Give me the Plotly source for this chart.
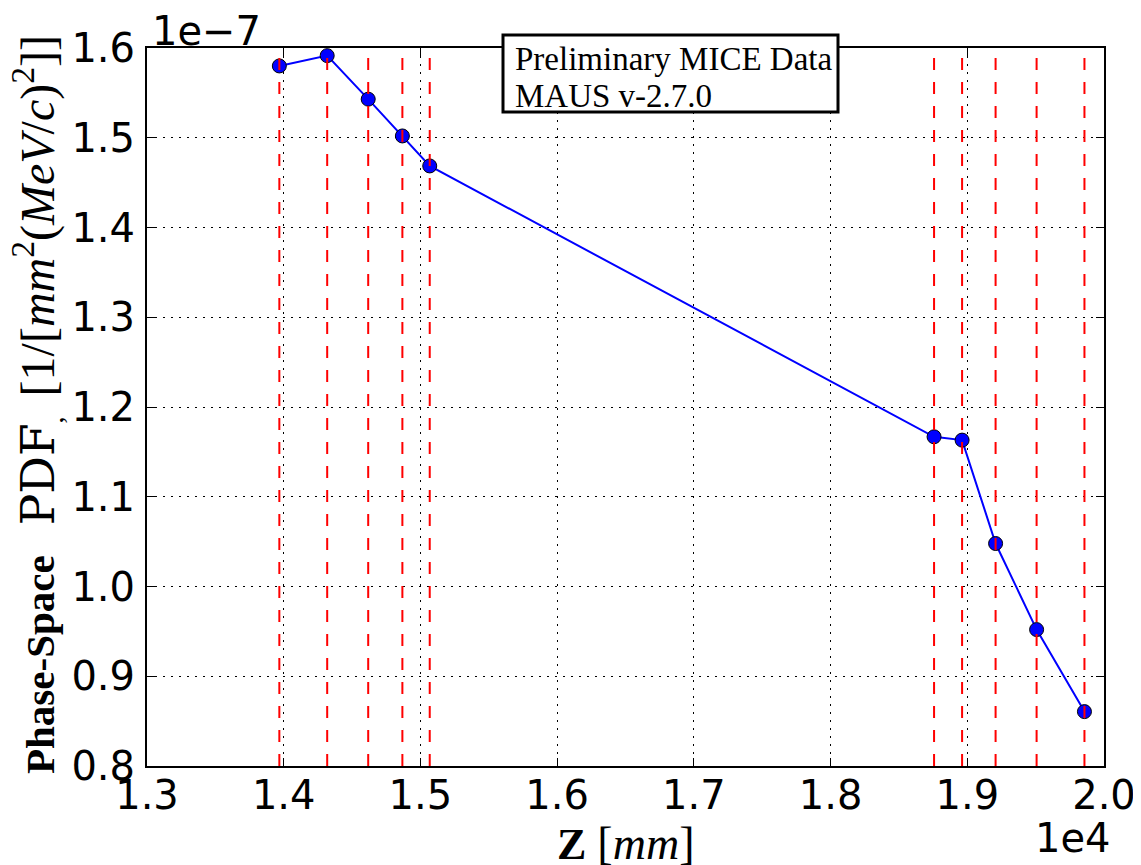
import plotly.graph_objects as go

# Data (z in mm, phase-space PDF in 1/[mm^2 (MeV/c)^2])
z_mm = [13968, 14318, 14618, 14868, 15068, 18757, 18962, 19207, 19507, 19857]
pdf = [1.580e-7, 1.5915e-7, 1.543e-7, 1.502e-7, 1.4686e-7,
       1.1668e-7, 1.1631e-7, 1.0479e-7, 0.952e-7, 0.8606e-7]
station_z = [13968, 14318, 14618, 14868, 15068, 18757, 18962, 19207, 19507, 19857]

x_tick_vals = [13000, 14000, 15000, 16000, 17000, 18000, 19000, 20000]
x_tick_text = ["1.3", "1.4", "1.5", "1.6", "1.7", "1.8", "1.9", "2.0"]
y_tick_vals = [0.8e-7, 0.9e-7, 1.0e-7, 1.1e-7, 1.2e-7, 1.3e-7, 1.4e-7, 1.5e-7, 1.6e-7]
y_tick_text = ["0.8", "0.9", "1.0", "1.1", "1.2", "1.3", "1.4", "1.5", "1.6"]

OFF = 8  # default page body margin
W, H = 1141 - OFF, 865 - OFF
L, T = 147 - OFF, 48 - OFF
R = W - (1104 - OFF)
B = H - (766 - OFF)
pw, ph = W - L - R, H - T - B


def px(x):
    return (x - OFF - L) / pw


def py(y):
    return (T + ph - (y - OFF)) / ph


fig = go.Figure()
fig.add_trace(go.Scatter(
    x=z_mm, y=pdf, mode="lines+markers",
    line=dict(color="blue", width=2),
    marker=dict(size=14, color="blue", line=dict(color="black", width=1)),
    showlegend=False,
))

for zs in station_z:
    fig.add_shape(type="line", xref="x", yref="paper", x0=zs, x1=zs, y0=0, y1=1,
                  line=dict(color="red", width=2, dash="12px,12px"), layer="above")

tickfont = dict(family="DejaVu Sans", size=40, color="black")
axis_common = dict(
    showline=True, linecolor="black", linewidth=2, mirror="ticks",
    ticks="inside", ticklen=8, tickwidth=1, tickcolor="black",
    showgrid=True, gridcolor="black", gridwidth=1, griddash="2px,6px",
    zeroline=False, tickfont=tickfont,
)

fig.update_xaxes(range=[13000, 20000], tickmode="array", tickvals=x_tick_vals,
                 ticktext=x_tick_text, ticklabelstandoff=-7, **axis_common)
fig.update_yaxes(range=[0.8e-7, 1.6e-7], tickmode="array", tickvals=y_tick_vals,
                 ticktext=y_tick_text, ticklabelstandoff=2, **axis_common)

NB = "\u00a0"
# axis titles
fig.add_annotation(
    xref="paper", yref="paper", x=px(625), y=py(843),
    xanchor="center", yanchor="middle", showarrow=False,
    text='<span style="font-family:Liberation Serif;font-weight:bold;font-size:44px">Z</span>'
         + NB + '<span style="font-family:Liberation Serif;font-size:46px">[<i>mm</i>]</span>',
    font=dict(family="Liberation Serif", size=44, color="black"),
)
fig.add_annotation(
    xref="paper", yref="paper", x=px(36), y=py(405),
    xanchor="center", yanchor="middle", showarrow=False, textangle=-90,
    text='<span style="font-family:Liberation Serif;font-weight:bold;font-size:41px">Phase-Space</span>'
         + '<span style="font-size:40px">' + NB * 3 + '</span>'
         + '<span style="font-family:DejaVu Serif;font-size:47px">PDF</span>'
         + '<sub>,</sub>' + '<span style="font-size:40px">' + NB * 2 + '</span>'
         + '<span style="font-family:Liberation Serif;font-size:48px">[1/[<i>mm</i><sup>2</sup>(<i>MeV</i>/<i>c</i>)<sup>2</sup>]]</span>',
    font=dict(family="Liberation Serif", size=40, color="black"),
)

# offset texts
fig.add_annotation(
    xref="paper", yref="paper", x=px(150), y=1.0, xanchor="left", yanchor="bottom",
    showarrow=False, text="1e\u22127", font=tickfont, yshift=-8,
)
fig.add_annotation(
    xref="paper", yref="paper", x=px(1113), y=py(838),
    xanchor="right", yanchor="middle", showarrow=False, text="1e4", font=tickfont,
)

# text box
fig.add_shape(type="rect", xref="paper", yref="paper",
              x0=px(503), x1=px(838), y0=py(112), y1=py(35),
              line=dict(color="black", width=3), fillcolor="white", layer="above")
box_font = dict(family="Liberation Serif", size=33, color="black")
fig.add_annotation(xref="paper", yref="paper", x=px(513), y=py(59),
                   xanchor="left", yanchor="middle", showarrow=False,
                   text="Preliminary MICE Data", font=box_font)
fig.add_annotation(xref="paper", yref="paper", x=px(513), y=py(96),
                   xanchor="left", yanchor="middle", showarrow=False,
                   text="MAUS v-2.7.0", font=box_font)

fig.update_layout(
    width=W, height=H, margin=dict(l=L, r=R, t=T, b=B, autoexpand=False),
    plot_bgcolor="white", paper_bgcolor="white", showlegend=False,
)

fig.write_html("out.html")
